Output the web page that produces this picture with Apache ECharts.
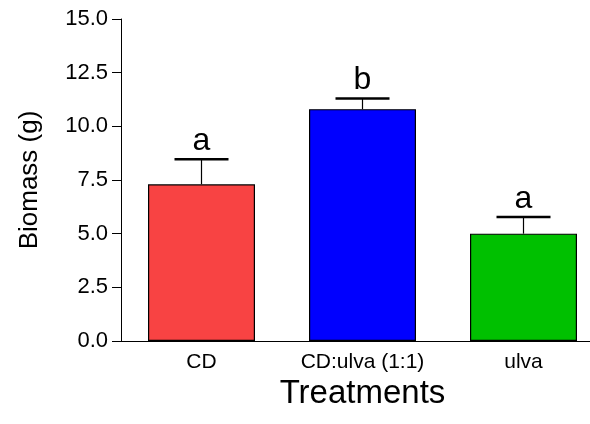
<!DOCTYPE html>
<html>
<head>
<meta charset="utf-8">
<script src="https://cdn.jsdelivr.net/npm/echarts@6/dist/echarts.min.js"></script>
<style>
  html, body { margin: 0; padding: 0; background: #fff; overflow: hidden; }
  /* the plot area runs a little past the right edge of the window */
  #chart { width: 604px; height: 424px; }
</style>
</head>
<body>
<div id="chart"></div>
<script>
// Biomass per treatment: mean, upper error (SEM) and significance letters
const categories = ['CD', 'CD:ulva (1:1)', 'ulva'];
const biomass = [7.3, 10.8, 5.0];
const biomassErr = [1.17, 0.5, 0.78];
const groupLetters = ['a', 'b', 'a'];
const barColors = ['#F84343', '#0000FF', '#00C000'];
const yTicks = [0, 2.5, 5, 7.5, 10, 12.5, 15];

const FONT = 'Liberation Sans, Arial, sans-serif';

const chart = echarts.init(document.getElementById('chart'), null, { renderer: 'canvas' });

const errData = biomass.map((v, i) => [i, v, v + biomassErr[i], groupLetters[i]]);

chart.setOption({
  animation: false,
  grid: { left: 121, right: 0, top: 19, bottom: 83 },
  xAxis: {
    type: 'category',
    data: categories,
    name: 'Treatments',
    nameLocation: 'middle',
    nameGap: 25,
    nameTextStyle: { fontFamily: FONT, fontSize: 33, color: '#000' },
    axisLine: { lineStyle: { color: '#000', width: 1 } },
    axisTick: { show: false },
    axisLabel: { fontFamily: FONT, fontSize: 21, color: '#000', margin: 11 }
  },
  yAxis: {
    type: 'value',
    min: 0,
    max: 15,
    interval: 2.5,
    name: 'Biomass (g)',
    nameLocation: 'middle',
    nameGap: 78,
    nameTextStyle: { fontFamily: FONT, fontSize: 26, color: '#000' },
    axisLine: { show: true, lineStyle: { color: '#000', width: 1 } },
    axisTick: { show: true, inside: false, length: 9, lineStyle: { color: '#000' } },
    splitLine: { show: false },
    axisLabel: {
      fontFamily: FONT, fontSize: 22, color: '#000', margin: 13,
      formatter: v => yTicks.includes(v) ? v.toFixed(1) : ''
    }
  },
  series: [
    {
      type: 'bar',
      barWidth: 107,
      data: biomass.map((v, i) => ({
        value: v,
        itemStyle: { color: barColors[i], borderColor: '#000', borderWidth: 1.2 }
      })),
      z: 2
    },
    {
      type: 'custom',
      z: 3,
      data: errData,
      encode: { x: 0, y: [1, 2] },
      renderItem: function (params, api) {
        const x = api.coord([api.value(0), api.value(1)])[0];
        const yBase = api.coord([api.value(0), api.value(1)])[1];
        const yTop = api.coord([api.value(0), api.value(2)])[1];
        const half = 27;
        return {
          type: 'group',
          children: [
            { type: 'line', shape: { x1: x, y1: yBase, x2: x, y2: yTop }, style: { stroke: '#000', lineWidth: 1.2 } },
            { type: 'line', shape: { x1: x - half, y1: yTop, x2: x + half, y2: yTop }, style: { stroke: '#000', lineWidth: 2.5 } },
            {
              type: 'text',
              style: {
                text: api.value(3),
                x: x, y: yTop - 18,
                textAlign: 'center', textVerticalAlign: 'middle',
                font: '32px ' + FONT, fill: '#000'
              }
            }
          ]
        };
      }
    }
  ]
});
</script>
</body>
</html>
